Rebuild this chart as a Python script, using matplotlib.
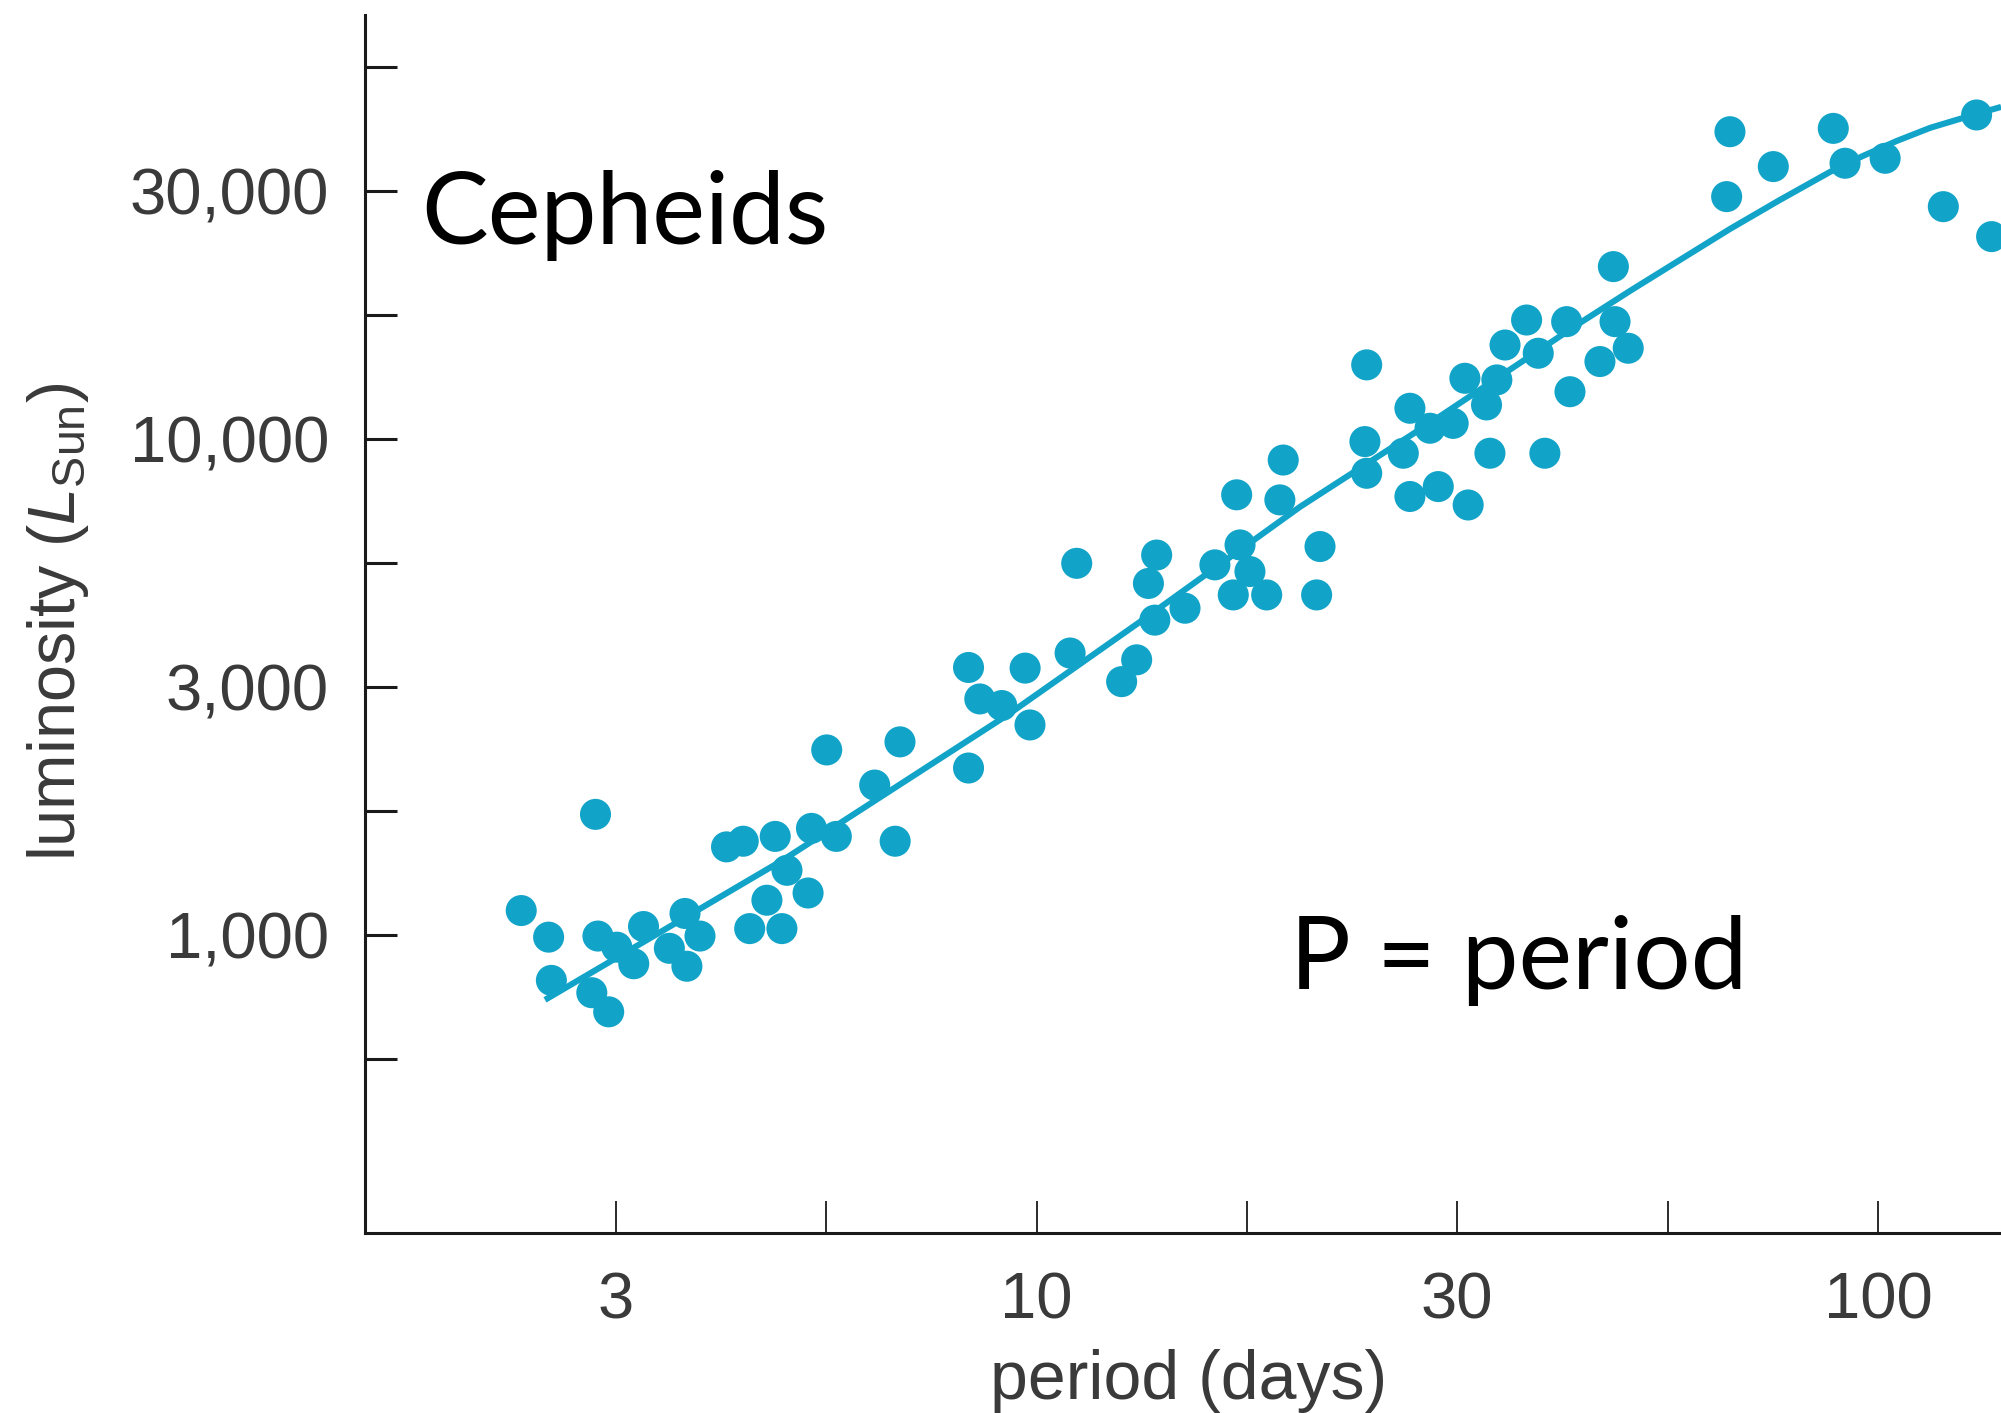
import numpy as np
import matplotlib
matplotlib.use("Agg")
import matplotlib.pyplot as plt
from matplotlib.ticker import FixedLocator, FixedFormatter, NullLocator

# Cepheid period-luminosity data (period in days, luminosity in L_sun)
period = [2.44, 2.63, 2.65, 2.99, 3.01, 2.96, 3.10, 3.17, 3.41, 3.32, 3.66, 3.82, 3.84, 3.98,
          4.28, 4.48, 4.89, 5.40, 5.78, 5.05, 4.78, 4.56, 4.98, 5.35, 5.63, 6.88, 6.42, 6.79, 8.30,
          8.30, 8.56, 9.09, 9.69, 9.82, 10.96, 11.16, 13.15, 12.62, 13.89, 13.58, 13.82, 15.01,
          16.29, 17.29, 17.45, 17.93, 17.13, 18.77, 19.64, 19.46, 21.72, 21.52, 24.56, 24.68,
          24.68, 27.78, 27.28, 27.78, 30.02, 32.58, 29.35, 31.27, 32.29, 34.26, 35.24, 34.58,
          36.04, 38.23, 39.47, 42.66, 40.19, 43.05, 48.48, 48.70, 50.49, 46.73,
          66.7, 66.1, 75.1, 88.5, 91.4, 102.0, 119.6, 136.5, 131.0]
luminosity = [1120, 990, 810, 1750, 995, 765, 700, 945, 1040, 875, 940, 1105, 865, 995,
              1505, 1545, 1580, 1640, 1580, 1350, 1175, 1030, 1030, 1215, 2360, 2450, 2005, 1545, 2170,
              3460, 2990, 2900, 3450, 2650, 3700, 5610, 3585, 3240, 5830, 5110, 4310, 4555,
              5570, 7710, 6110, 5400, 4845, 4845, 9060, 7530, 6065, 4845, 9870, 8520,
              14090, 11520, 9350, 7650, 8010, 7355, 10500, 10740, 13240, 11700, 13140, 9350,
              15450, 17350, 14870, 17220, 9350, 12440, 22230, 17220, 15220, 14310,
              41570, 30760, 35360, 42220, 35910, 36750, 29360, 25550, 44930]

# mean relation drawn through the points
fit_period = [2.604, 4.995, 9.25, 13.63, 20.56, 29.59, 44.25, 50.74, 58.17, 66.72, 76.47,
              87.70, 95.98, 105.3, 115.3, 129.7, 140.1]
fit_lum = [740, 1416, 2781, 4415, 7290, 10860, 17120, 19860, 22930, 26480, 30290,
           34490, 37150, 39830, 42310, 44930, 46640]

# ticks every quarter decade, labels on half decades
x_tick_exp = [0.5, 0.75, 1.0, 1.25, 1.5, 1.75, 2.0]
x_tick_labels = ["3", "", "10", "", "30", "", "100"]
y_tick_exp = [2.75, 3.0, 3.25, 3.5, 3.75, 4.0, 4.25, 4.5, 4.75]
y_tick_labels = ["", "1,000", "", "3,000", "", "10,000", "", "30,000", ""]

dot_color = "#12a4c8"
label_color = "#3a3a3a"

plt.rcParams["mathtext.fontset"] = "custom"
plt.rcParams["mathtext.rm"] = "Liberation Sans"
plt.rcParams["mathtext.it"] = "Liberation Sans:italic"

W, H = 2001, 1413
fig = plt.figure(figsize=(W / 100, H / 100), dpi=100)
ax = fig.add_axes([365 / W, 1 - 1233 / H, 1 - 365 / W, (1233 - 15) / H])

ax.plot(fit_period, fit_lum, color=dot_color, lw=4.4, solid_capstyle="butt",
        solid_joinstyle="round", zorder=2)
ax.scatter(period, luminosity, s=500, color=dot_color, edgecolors="none", zorder=3, clip_on=False)

ax.set_xscale("log")
ax.set_yscale("log")
ax.set_xlim(10 ** 0.2017, 10 ** 2.1463)
ax.set_ylim(10 ** 2.3994, 10 ** 4.854)

ax.xaxis.set_major_locator(FixedLocator([10 ** e for e in x_tick_exp]))
ax.xaxis.set_major_formatter(FixedFormatter(x_tick_labels))
ax.yaxis.set_major_locator(FixedLocator([10 ** e for e in y_tick_exp]))
ax.yaxis.set_major_formatter(FixedFormatter(y_tick_labels))
ax.xaxis.set_minor_locator(NullLocator())
ax.yaxis.set_minor_locator(NullLocator())

for side in ["top", "right"]:
    ax.spines[side].set_visible(False)
for side in ["left", "bottom"]:
    ax.spines[side].set_linewidth(2.2)
    ax.spines[side].set_color("#1a1a1a")

ax.tick_params(axis="x", direction="in", length=23, width=1.3, color="#1a1a1a",
               pad=28, labelsize=47, labelcolor=label_color)
ax.tick_params(axis="y", direction="in", length=23, width=2.2, color="#1a1a1a",
               pad=26, labelsize=47, labelcolor=label_color)
for lab in ax.get_xticklabels() + ax.get_yticklabels():
    lab.set_fontfamily("Liberation Sans")

fig.text(1189 / W, 1 - 1381 / H, "period (days)", ha="center", va="center",
         fontsize=49, family="Liberation Sans", color=label_color)
fig.text(58 / W, 1 - 622 / H, r"luminosity ($L_{\mathrm{Sun}}$)", rotation=90,
         ha="center", va="center", fontsize=48, family="Liberation Sans", color=label_color)

fig.text(421 / W, 1 - 244 / H, "Cepheids", ha="left", va="baseline",
         fontsize=72, family="Lato", color="black")
fig.text(1290 / W, 1 - 989 / H, "P = period", ha="left", va="baseline",
         fontsize=73, family="Lato", color="black")

fig.savefig("out.png", dpi=100)
